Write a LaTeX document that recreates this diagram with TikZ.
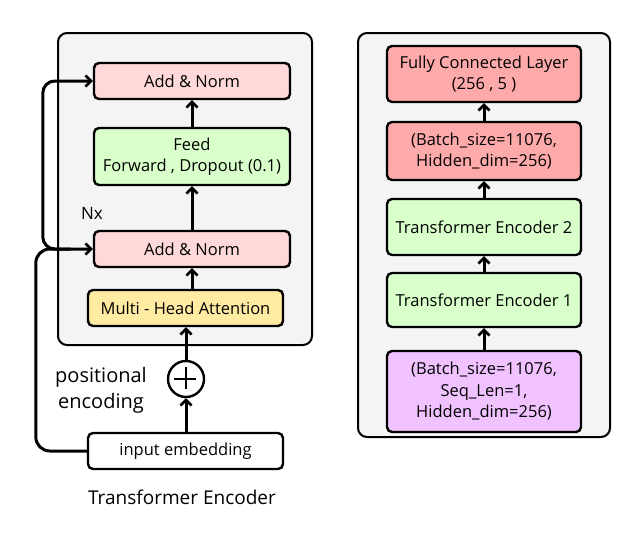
\documentclass[tikz,border=0pt]{standalone}
\usepackage{fontspec}
\setmainfont{Open Sans}
\usetikzlibrary{arrows.meta}
\definecolor{panelgray}{HTML}{F4F4F4}
\definecolor{normpink}{HTML}{FFD9D9}
\definecolor{ffgreen}{HTML}{D9FFCB}
\definecolor{attyellow}{HTML}{FFEBA1}
\definecolor{fcred}{HTML}{FFAAAA}
\definecolor{inpurple}{HTML}{F0C2FF}
\tikzset{
  panel/.style={draw, line width=2pt, rounded corners=9pt, fill=panelgray},
  block/.style={draw, line width=2.4pt, rounded corners=5pt, align=center,
    font=\fontsize{16.5}{21.5}\selectfont, inner sep=0pt},
  arr/.style={line width=3pt, -{Straight Barb[length=5.5pt,width=11pt,line width=2.6pt]}},
}
\begin{document}
\begin{tikzpicture}[x=1pt,y=-1pt]
	\useasboundingbox (0,0) rectangle (628,538);
	% panels
	\draw[panel] (58,33) rectangle (312,345);
	\draw[panel] (358,33) rectangle (610,437);
	% encoder block
	\node[block, fill=normpink, minimum width=196pt, minimum height=36pt] (addtop) at (192,81) {Add \& Norm};
	\node[block, fill=ffgreen, minimum width=196pt, minimum height=57pt] (feed) at (192,156.5) {Feed\\Forward , Dropout (0.1)};
	\node[block, fill=normpink, minimum width=196pt, minimum height=36pt] (addbot) at (192,249) {Add \& Norm};
	\node[block, fill=attyellow, minimum width=195pt, minimum height=36pt] (mha) at (185.5,308) {Multi - Head Attention};
	\node[draw, circle, line width=2.4pt, fill=white, minimum size=36pt, inner sep=0pt] (plus) at (186,379) {};
	\draw[line width=1.5pt] (plus.north) ++(0,7) -- ++(0,22) (plus.west) ++(7,0) -- ++(22,0);
	\node[block, fill=white, minimum width=195pt, minimum height=36pt] (embed) at (185.5,451) {input embedding};
	\node[font=\fontsize{17}{20}\selectfont] (nx) at (92,213) {Nx};
	\node[font=\fontsize{20}{26}\selectfont, align=center] (posenc) at (101,390) {positional\\encoding};
	\node[font=\fontsize{19}{22}\selectfont] (title) at (182,497) {Transformer Encoder};
	\draw[arr] (embed.north -| plus) -- (plus.south);
	\draw[arr] (plus.north) -- (mha.south -| plus);
	\draw[arr] (mha.north -| addbot) -- (addbot.south);
	\draw[arr] (addbot.north) -- (feed.south);
	\draw[arr] (feed.north) -- (addtop.south);
	% residual paths
	\draw[arr, rounded corners=14pt] (embed.west) -| ([xshift=-57pt]addbot.west) -- (addbot.west);
	\draw[arr, rounded corners=12pt] ([xshift=-22pt]addbot.west) -| ([xshift=-50pt]addtop.west) -- (addtop.west);
	% model stack
	\node[block, fill=fcred, minimum width=194pt, minimum height=56pt] (fc) at (484,74) {Fully Connected Layer\\(256 , 5 )};
	\node[block, fill=fcred, minimum width=194pt, minimum height=58pt] (hid) at (484,151) {(Batch\_size=11076,\\Hidden\_dim=256)};
	\node[block, fill=ffgreen, minimum width=194pt, minimum height=56pt] (enc2) at (484,227) {Transformer Encoder 2};
	\node[block, fill=ffgreen, minimum width=194pt, minimum height=54pt] (enc1) at (484,300) {Transformer Encoder 1};
	\node[block, fill=inpurple, minimum width=194pt, minimum height=81pt] (inp) at (484,391.5) {(Batch\_size=11076,\\Seq\_Len=1,\\Hidden\_dim=256)};
	\draw[arr] (inp.north) -- (enc1.south);
	\draw[arr] (enc1.north) -- (enc2.south);
	\draw[arr] (enc2.north) -- (hid.south);
	\draw[arr] (hid.north) -- (fc.south);
\end{tikzpicture}
\end{document}
